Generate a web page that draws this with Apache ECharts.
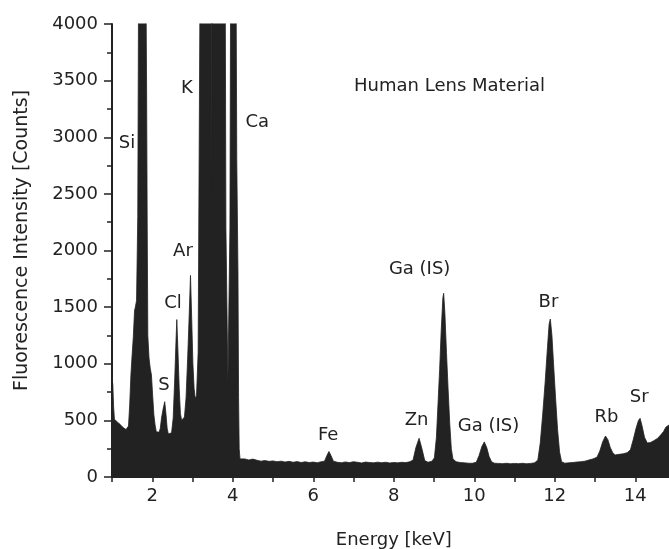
<!DOCTYPE html>
<html>
<head>
<meta charset="utf-8">
<script src="https://cdn.jsdelivr.net/npm/echarts@6/dist/echarts.min.js"></script>
<style>
html,body{margin:0;padding:0;background:#fff;}
#chart{width:669px;height:549px;}
</style>
</head>
<body>
<div id="chart"></div>
<script>
// Spectrum: [energy keV, counts]
const spectrum = [
[1.00,860],[1.02,820],[1.04,620],[1.06,510],[1.10,495],[1.15,480],[1.20,465],[1.25,445],[1.30,430],[1.35,420],[1.38,415],
[1.41,450],[1.44,640],[1.47,900],[1.50,1080],[1.53,1240],[1.56,1470],[1.58,1500],[1.61,1560],[1.64,2300],[1.66,4300],
[1.69,7000],[1.73,11000],[1.77,11000],[1.81,7500],[1.84,4600],[1.86,3400],[1.875,2200],[1.89,1250],[1.92,1050],[1.95,960],
[1.98,900],[2.01,720],[2.04,550],[2.07,460],[2.10,400],[2.13,385],[2.17,395],[2.20,430],[2.23,520],[2.27,600],[2.31,665],
[2.34,560],[2.37,430],[2.40,380],[2.44,370],[2.48,390],[2.52,520],[2.56,880],[2.59,1200],[2.61,1390],[2.64,1100],[2.67,780],
[2.70,560],[2.73,500],[2.76,490],[2.80,530],[2.84,700],[2.88,1050],[2.92,1450],[2.95,1780],[2.98,1400],[3.01,1000],[3.04,780],
[3.07,690],[3.10,720],[3.14,1100],[3.16,2500],[3.185,4200],[3.25,9000],[3.31,11000],[3.38,9000],[3.465,9000],[3.48,2530],
[3.495,9000],[3.58,9000],[3.68,11000],[3.76,8000],[3.80,6000],[3.83,2200],[3.88,840],[3.93,2200],[3.96,6000],[4.01,9000],
[4.07,5500],[4.10,2800],[4.13,1800],[4.145,700],[4.16,250],[4.18,160],
[4.2,155],[4.3,160],[4.4,150],[4.5,158],[4.6,148],[4.7,140],[4.8,145],[4.9,138],[5.0,142],[5.1,135],[5.2,140],[5.3,132],
[5.4,138],[5.5,130],[5.6,136],[5.7,128],[5.8,134],[5.9,128],[6.0,132],[6.1,126],[6.2,135],[6.28,140],[6.34,190],[6.39,225],
[6.44,190],[6.50,140],[6.6,130],[6.7,126],[6.8,133],[6.9,127],[7.0,135],[7.1,130],[7.2,124],[7.3,132],[7.4,128],[7.5,125],
[7.6,131],[7.7,126],[7.8,130],[7.9,124],[8.0,128],[8.1,125],[8.2,130],[8.3,127],[8.4,135],[8.48,150],[8.55,260],[8.63,342],
[8.70,250],[8.77,145],[8.85,130],[8.95,140],
[9.01,170],[9.06,350],[9.10,650],[9.14,950],[9.18,1300],[9.22,1580],[9.24,1622],[9.27,1450],[9.31,1100],[9.35,780],[9.39,480],
[9.43,250],[9.47,160],[9.55,135],[9.65,128],[9.75,125],[9.85,122],[9.95,121],[10.05,130],[10.12,190],[10.19,270],[10.25,310],
[10.31,260],[10.37,180],[10.43,135],[10.5,122],[10.6,120],[10.7,118],[10.8,121],[10.9,117],[11.0,120],[11.1,118],[11.2,121],
[11.3,117],[11.4,120],[11.5,125],[11.58,150],[11.64,300],[11.70,550],[11.76,830],[11.82,1150],[11.86,1350],[11.89,1395],
[11.93,1250],[11.97,1000],[12.02,700],[12.07,420],[12.12,220],[12.17,135],[12.25,122],[12.35,125],[12.45,128],[12.55,132],
[12.65,135],[12.75,140],[12.85,150],[12.95,160],[13.05,175],[13.12,230],[13.19,310],[13.26,362],[13.32,330],[13.38,260],
[13.44,215],[13.50,195],[13.6,200],[13.7,205],[13.8,215],[13.88,240],[13.95,330],[14.02,430],[14.08,500],[14.12,518],
[14.17,450],[14.23,350],[14.30,300],[14.38,305],[14.46,320],[14.55,340],[14.63,370],[14.70,400],[14.76,440],[14.82,455],
[14.9,470],[15.0,490]
];

// Annotation labels: [energy keV, counts, text]
const peakLabels = [
[1.372,2949,'Si'],[2.861,3435,'K'],[4.61,3130,'Ca'],[2.762,1991,'Ar'],[2.514,1536,'Cl'],[2.29,812,'S'],
[6.372,371,'Fe'],[8.568,503,'Zn'],[8.643,1837,'Ga (IS)'],[10.355,450,'Ga (IS)'],[11.844,1545,'Br'],
[13.283,530,'Rb'],[14.10,706,'Sr'],[9.387,3452,'Human Lens Material']
];

const xTicks = [2,4,6,8,10,12,14];
const yTicks = [0,500,1000,1500,2000,2500,3000,3500,4000];

const FONT = 'DejaVu Sans';
const INK = '#222';

const chart = echarts.init(document.getElementById('chart'), null, {renderer:'canvas'});
chart.setOption({
  backgroundColor:'#fff',
  animation:false,
  grid:{left:112, right:-6.5, top:24, bottom:72, containLabel:false, outerBoundsMode:'none'},
  xAxis:{
    type:'value', min:1, max:15, interval:1,
    name:'Energy [keV]', nameLocation:'middle', nameGap:54,
    nameTextStyle:{fontFamily:FONT, fontSize:18, color:INK},
    axisLine:{show:true, onZero:false, lineStyle:{color:INK, width:2}},
    axisTick:{show:true, length:5, lineStyle:{color:INK, width:1.5}},
    axisLabel:{fontFamily:FONT, fontSize:18, color:INK, margin:10,
      formatter:v => xTicks.includes(v) ? String(v) : ''},
    splitLine:{show:false}
  },
  yAxis:{
    type:'value', min:yTicks[0], max:yTicks[yTicks.length-1], interval:500,
    name:'Fluorescence Intensity [Counts]', nameLocation:'middle', nameGap:80,
    nameTextStyle:{fontFamily:FONT, fontSize:19, color:INK, padding:[0,0,0,20]},
    axisLine:{show:true, lineStyle:{color:INK, width:2}},
    axisTick:{show:true, length:8, lineStyle:{color:INK, width:1.5}},
    minorTick:{show:true, splitNumber:2, length:5, lineStyle:{color:INK, width:1.5}},
    axisLabel:{fontFamily:FONT, fontSize:18, color:INK, margin:14,
      formatter:v => String(v)},
    splitLine:{show:false}, minorSplitLine:{show:false}
  },
  series:[
    {
      type:'line', data:spectrum, showSymbol:false, symbol:'none', clip:true,
      lineStyle:{color:INK, width:0.8},
      areaStyle:{color:INK, opacity:1},
      z:2
    },
    {
      type:'scatter', data:peakLabels, symbolSize:0,
      itemStyle:{color:INK, opacity:1},
      label:{show:true, position:'inside', fontFamily:FONT, fontSize:18, color:INK,
        textBorderWidth:0, opacity:1, formatter:p => p.data[2]},
      z:10, silent:true
    }
  ]
});
</script>
</body>
</html>
